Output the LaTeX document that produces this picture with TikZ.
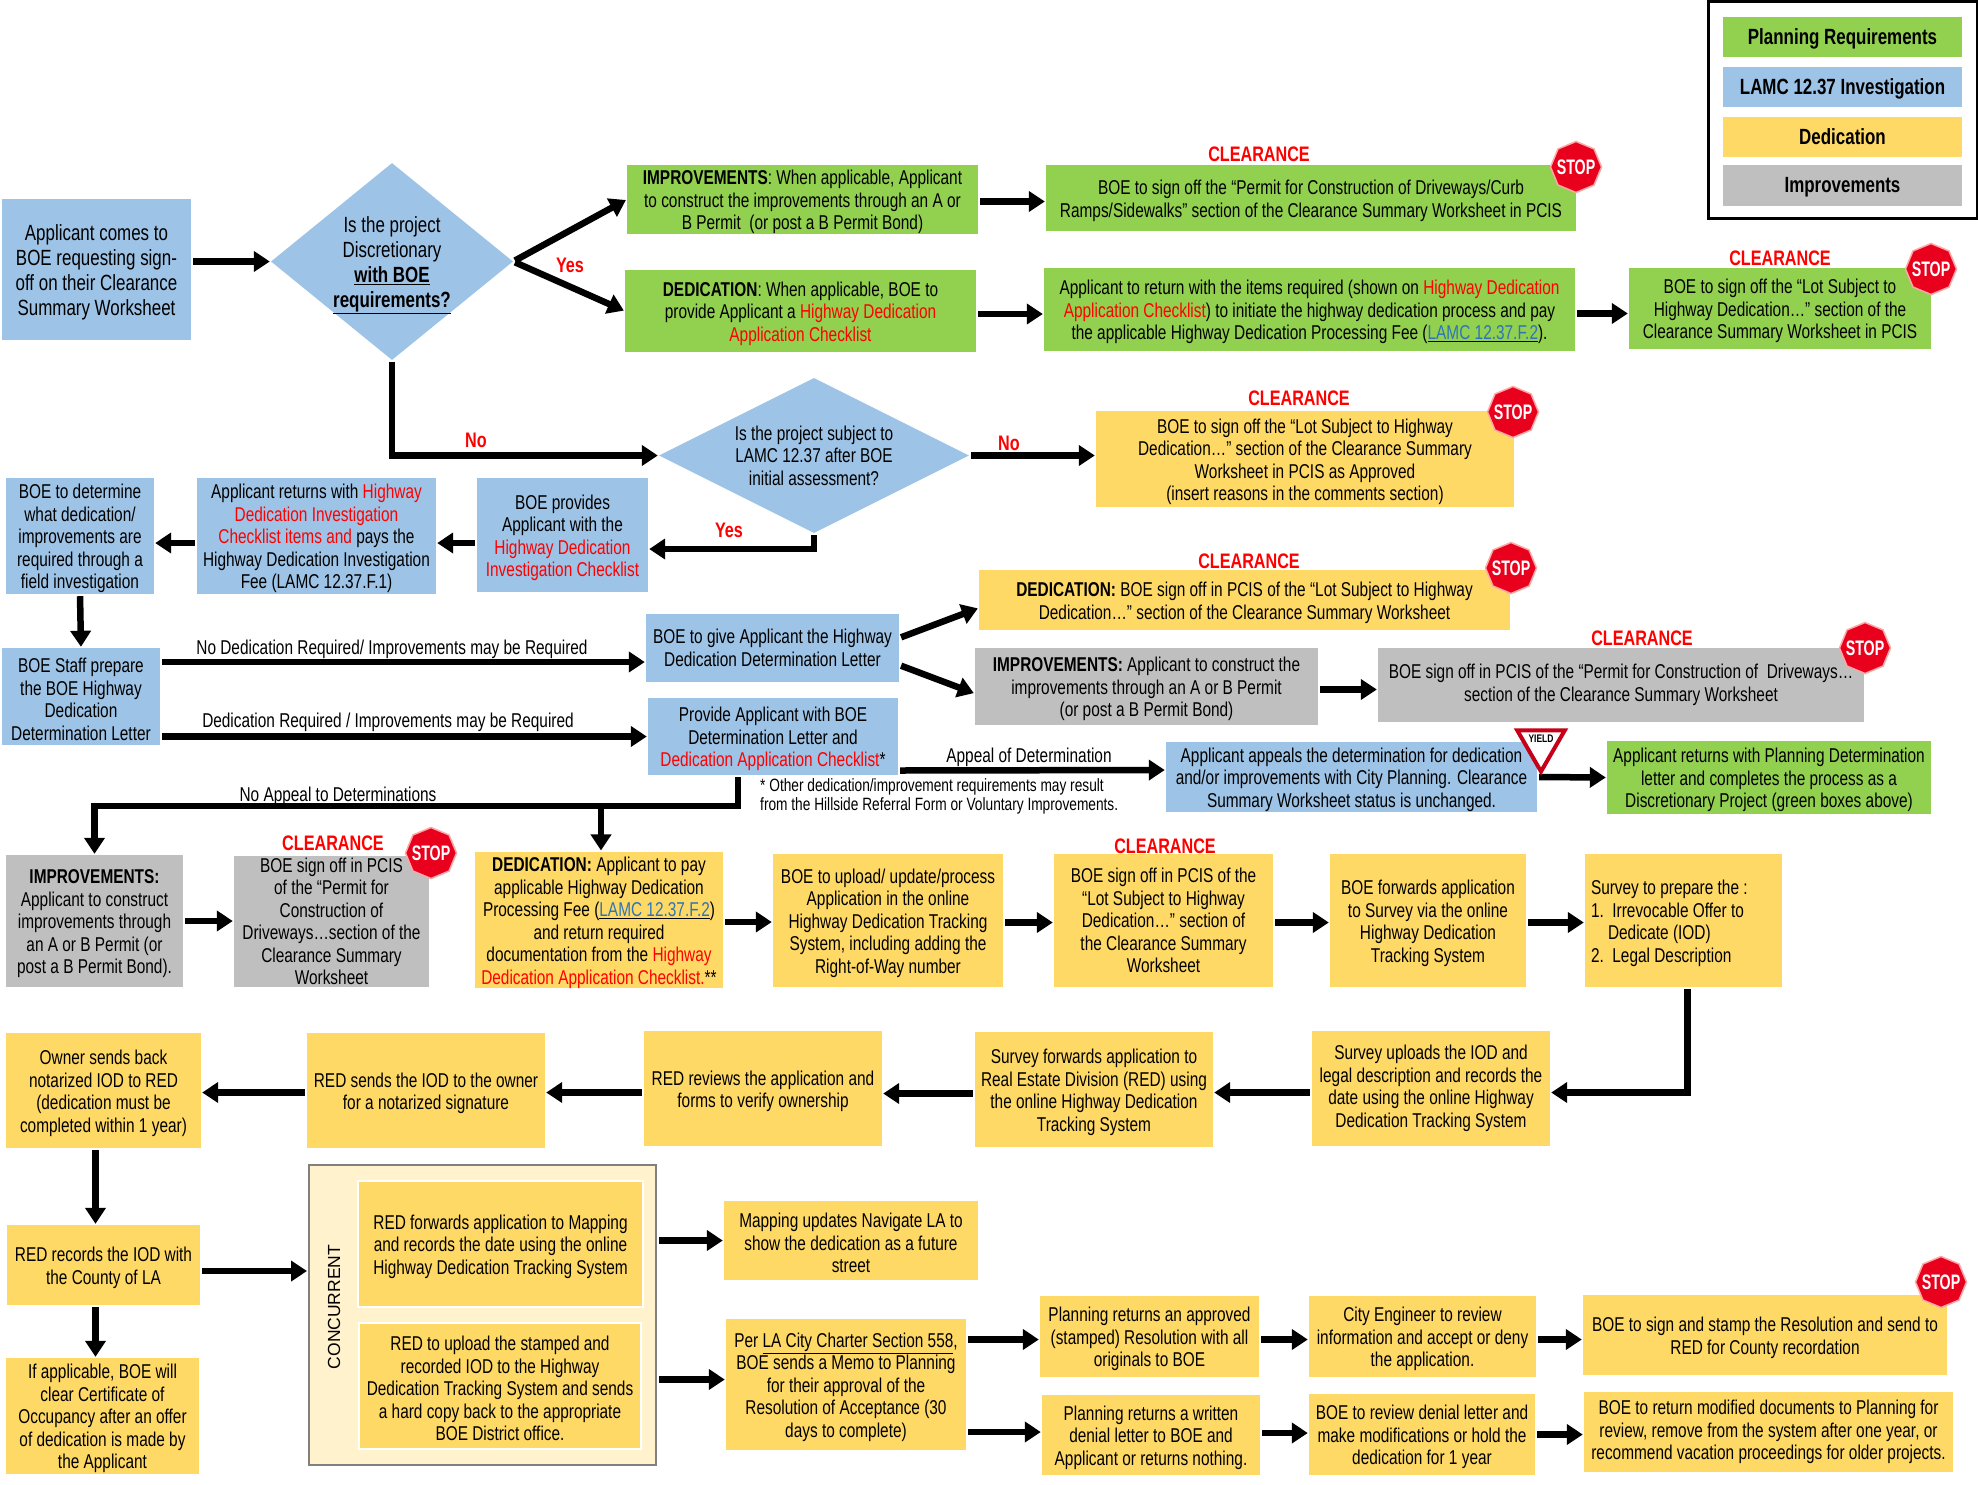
\documentclass[tikz,border=0pt]{standalone}
\usepackage{fontspec}
\setmainfont{Liberation Sans}[FakeStretch=0.77]
\newfontfamily\widefont{Liberation Sans}
\usetikzlibrary{arrows.meta,calc,shapes.geometric}
\definecolor{plangreen}{HTML}{92D050}
\definecolor{lamcblue}{HTML}{9DC3E6}
\definecolor{dedyellow}{HTML}{FFD966}
\definecolor{impgray}{HTML}{BFBFBF}
\definecolor{concream}{HTML}{FFF2CC}
\definecolor{linkblue}{HTML}{2E75B6}
\definecolor{stopred}{HTML}{E8001C}
\newcommand{\rd}[1]{\textcolor{red}{#1}}
\newcommand{\lnk}[1]{\underline{\textcolor{linkblue}{#1}}}
\newcommand{\up}{\rule{0pt}{20pt}}
\newcommand{\upbig}{\rule{0pt}{22pt}}
\newcommand{\bigfont}{\fontsize{22}{25}\selectfont}
\newcommand{\stoplab}{\smash{\raisebox{-7.5pt}{\makebox[0pt]{\scalebox{0.88}[1]{STOP}}}}}
\begin{document}
\begin{tikzpicture}[x=1pt,y=-1pt,
    wh/.style 2 args={minimum width=#1pt,minimum height=#2pt},
    base/.style={inner sep=0pt,align=center,font=\fontsize{20}{22.5}\selectfont},
    green box/.style={base,fill=plangreen},
    blue box/.style={base,fill=lamcblue},
    yellow box/.style={base,fill=dedyellow},
    gray box/.style={base,fill=impgray},
    decision/.style={base,diamond,fill=lamcblue,inner sep=-10pt},
    legtext/.style={text height=20pt,text depth=5.5pt,font=\fontsize{22}{24}\bfseries\selectfont},
    arr/.style={line width=6.5pt,shorten <=2pt,shorten >=1pt,-{Triangle[length=16pt,width=20pt]}},
    edgelab/.style={inner sep=0pt,font=\fontsize{20}{22}\selectfont},
    redlab/.style={inner sep=0pt,text=red,font=\fontsize{21}{24}\bfseries\selectfont},
    clearance/.style={inner sep=0pt,text=red,font=\fontsize{21}{24}\bfseries\selectfont},
    stopsign/.style={regular polygon,regular polygon sides=8,shape border rotate=22.5,minimum size=51pt,inner sep=0pt,
      fill=stopred,draw=red!35!white,line width=1.5pt,text=white,font=\fontsize{21}{22}\bfseries\selectfont}]
    \useasboundingbox (0,0) rectangle (1978,1484);

    \draw node at (1843,110)[name=legend,draw,line width=3pt,wh={269}{217}]{};
    \draw node at (1842.5,37)[name=legplan,green box,wh={239}{40},legtext]{Planning Requirements};
    \draw node at (1842.5,87)[name=leglamc,blue box,wh={239}{40},legtext]{LAMC 12.37 Investigation};
    \draw node at (1842.5,137)[name=legded,yellow box,wh={239}{40},legtext]{Dedication};
    \draw node at (1842.5,185.5)[name=legimp,gray box,wh={239}{41},legtext]{Improvements};

    \draw node at (96.5,269.5)[name=app,blue box,wh={189}{141},font=\bigfont]{\upbig Applicant comes to\\BOE requesting sign-\\off on their Clearance\\Summary Worksheet};
    \draw node at (392,261.5)[name=decone,decision,aspect=1.23,wh={242}{197},font=\bigfont]{\rule{0pt}{24pt}Is the project\\Discretionary\\\underline{\textbf{with BOE}}\\\underline{\textbf{requirements?}}};
    \draw node at (802.5,199.5)[name=impr,green box,wh={351}{69}]{\up\textbf{IMPROVEMENTS}: When applicable, Applicant\\to construct the improvements through an A or\\B Permit\ \ (or post a B Permit Bond)};
    \draw node at (800.5,311)[name=dedn,green box,wh={351}{82}]{\up\textbf{DEDICATION}: When applicable, BOE to\\provide Applicant a \rd{Highway Dedication}\\\rd{Application Checklist}};
    \draw node at (1311,198)[name=clrpermit,green box,wh={530}{66}]{\up BOE to sign off the “Permit for Construction of Driveways/Curb\\Ramps/Sidewalks” section of the Clearance Summary Worksheet in PCIS};
    \draw node at (1309.5,309.5)[name=retitems,green box,wh={531}{83}]{\up Applicant to return with the items required (shown on \rd{Highway Dedication}\\\rd{Application Checklist}) to initiate the highway dedication process and pay\\the applicable Highway Dedication Processing Fee (\lnk{LAMC 12.37.F.2}).};
    \draw node at (1780,308.5)[name=clrlot,green box,wh={302}{81}]{\up BOE to sign off the “Lot Subject to\\Highway Dedication…” section of the\\Clearance Summary Worksheet in PCIS};

    \draw node at (814,455.5)[name=dectwo,decision,aspect=2,wh={310}{155}]{Is the project subject to\\LAMC 12.37 after BOE\\initial assessment?};
    \draw node at (1305,459)[name=clrasis,yellow box,wh={418}{96}]{\up BOE to sign off the “Lot Subject to Highway\\Dedication…” section of the Clearance Summary\\Worksheet in PCIS as Approved\\(insert reasons in the comments section)};
    \draw node at (562.5,535)[name=boeprov,blue box,wh={171}{114}]{\up BOE provides\\Applicant with the\\\rd{Highway Dedication}\\\rd{Investigation Checklist}};
    \draw node at (316.5,536)[name=appret,blue box,wh={239}{116}]{\up Applicant returns with \rd{Highway}\\\rd{Dedication Investigation}\\\rd{Checklist items and} pays the\\Highway Dedication Investigation\\Fee (LAMC 12.37.F.1)};
    \draw node at (80,536)[name=boedet,blue box,wh={148}{116}]{\up BOE to determine\\what dedication/\\improvements are\\required through a\\field investigation};

    \draw node at (81,696.5)[name=staff,blue box,wh={158}{97}]{\up BOE Staff prepare\\the BOE Highway\\Dedication\\Determination Letter};
    \draw node at (772.5,648)[name=boegive,blue box,wh={253}{68}]{BOE to give Applicant the Highway\\Dedication Determination Letter};
    \draw node at (773,736.5)[name=provide,blue box,wh={250}{77}]{\up Provide Applicant with BOE\\Determination Letter and\\\rd{Dedication Application Checklist}*};
    \draw node at (1244.5,600)[name=dedclr,yellow box,wh={531}{60}]{\up\textbf{DEDICATION:} BOE sign off in PCIS of the “Lot Subject to Highway\\Dedication…” section of the Clearance Summary Worksheet};
    \draw node at (1146.5,686.5)[name=imprthree,gray box,wh={343}{77}]{\up\textbf{IMPROVEMENTS:} Applicant to construct the\\improvements through an A or B Permit\\(or post a B Permit Bond)};
    \draw node at (1621,685)[name=grayclr,gray box,wh={486}{74}]{BOE sign off in PCIS of the “Permit for Construction of\ \ Driveways…\\section of the Clearance Summary Worksheet};
    \draw node at (1351.5,777)[name=appeal,blue box,wh={371}{70}]{\up Applicant appeals the determination for dedication\\and/or improvements with City Planning. Clearance\\Summary Worksheet status is unchanged.};
    \draw node at (1769,777.5)[name=greenret,green box,wh={324}{73}]{\up Applicant returns with Planning Determination\\letter and completes the process as a\\Discretionary Project (green boxes above)};
    \draw node at (760,796)[name=note,anchor=west,inner sep=0pt,align=flush left,font=\fontsize{17.8}{19}\selectfont]{* Other dedication/improvement requirements may result\\from the Hillside Referral Form or Voluntary Improvements.};

    \draw node at (94.5,921)[name=imprtwo,gray box,wh={177}{132}]{\up\textbf{IMPROVEMENTS:}\\Applicant to construct\\improvements through\\an A or B Permit (or\\post a B Permit Bond).};
    \draw node at (331.5,921.5)[name=graybox,gray box,wh={195}{131}]{BOE sign off in PCIS\\of the “Permit for\\Construction of\\Driveways…section of the\\Clearance Summary\\Worksheet};
    \draw node at (599,920)[name=dedtwo,yellow box,wh={248}{132}]{\up\textbf{DEDICATION:} Applicant to pay\\applicable Highway Dedication\\Processing Fee (\lnk{LAMC 12.37.F.2})\\and return required\\documentation from the \rd{Highway}\\\rd{Dedication Application Checklist.}**};
    \draw node at (888,920.5)[name=upload,yellow box,wh={230}{133}]{\up BOE to upload/ update/process\\Application in the online\\Highway Dedication Tracking\\System, including adding the\\Right-of-Way number};
    \draw node at (1163.5,920.5)[name=clryel,yellow box,wh={219}{133}]{BOE sign off in PCIS of the\\“Lot Subject to Highway\\Dedication…” section of\\the Clearance Summary\\Worksheet};
    \draw node at (1428,920.5)[name=forward,yellow box,wh={196}{133}]{\up BOE forwards application\\to Survey via the online\\Highway Dedication\\Tracking System};
    \draw node at (1683.5,920.5)[name=survey,yellow box,wh={197}{133},text width=185pt,align=flush left]{\up Survey to prepare the :\\1.\ \ Irrevocable Offer to\\\hspace*{17pt}Dedicate (IOD)\\2.\ \ Legal Description};

    \draw node at (1431,1088.5)[name=surveyup,yellow box,wh={238}{115}]{Survey uploads the IOD and\\legal description and records the\\date using the online Highway\\Dedication Tracking System};
    \draw node at (1094,1089.5)[name=surveyfw,yellow box,wh={238}{115}]{\up Survey forwards application to\\Real Estate Division (RED) using\\the online Highway Dedication\\Tracking System};
    \draw node at (763,1088.5)[name=redrev,yellow box,wh={238}{115}]{\up RED reviews the application and\\forms to verify ownership};
    \draw node at (426,1090.5)[name=redsends,yellow box,wh={238}{115}]{\up RED sends the IOD to the owner\\for a notarized signature};
    \draw node at (103.5,1090.5)[name=owner,yellow box,wh={195}{115}]{\up Owner sends back\\notarized IOD to RED\\(dedication must be\\completed within 1 year)};
    \draw node at (103.5,1265)[name=redrec,yellow box,wh={193}{80}]{\up RED records the IOD with\\the County of LA};
    \draw node at (102.5,1416)[name=ifapp,yellow box,wh={193}{116}]{\up If applicable, BOE will\\clear Certificate of\\Occupancy after an offer\\of dedication is made by\\the Applicant};

    \draw node at (482.5,1315)[name=conc,draw=black!50,line width=2pt,fill=concream,wh={347}{300}]{};
    \draw node at (334,1307)[name=conclab,rotate=90,inner sep=0pt,font=\fontsize{17.5}{22}\widefont\selectfont]{CONCURRENT};
    \draw node at (500.5,1244)[name=redfwd,yellow box,draw=white,line width=1.5pt,wh={285}{126}]{\up RED forwards application to Mapping\\and records the date using the online\\Highway Dedication Tracking System};
    \draw node at (500,1386)[name=redup,yellow box,draw=white,line width=1.5pt,wh={282}{126}]{\up RED to upload the stamped and\\recorded IOD to the Highway\\Dedication Tracking System and sends\\a hard copy back to the appropriate\\BOE District office.};
    \draw node at (851,1240.5)[name=mapping,yellow box,wh={254}{79}]{\up Mapping updates Navigate LA to\\show the dedication as a future\\street};
    \draw node at (846,1384.5)[name=per,yellow box,wh={240}{131}]{\up Per \underline{LA City Charter Section 558},\\BOE sends a Memo to Planning\\for their approval of the\\Resolution of Acceptance (30\\days to complete)};
    \draw node at (1149.5,1336.5)[name=plana,yellow box,wh={219}{81}]{\up Planning returns an approved\\(stamped) Resolution with all\\originals to BOE};
    \draw node at (1151,1435)[name=planb,yellow box,wh={218}{80}]{\up Planning returns a written\\denial letter to BOE and\\Applicant or returns nothing.};
    \draw node at (1422.5,1336.5)[name=city,yellow box,wh={227}{81}]{\up City Engineer to review\\information and accept or deny\\the application.};
    \draw node at (1422,1434.5)[name=boeden,yellow box,wh={226}{81}]{\up BOE to review denial letter and\\make modifications or hold the\\dedication for 1 year};
    \draw node at (1765,1335)[name=boesign,yellow box,wh={364}{80}]{\up BOE to sign and stamp the Resolution and send to\\RED for County recordation};
    \draw node at (1768.5,1432)[name=boeret,yellow box,wh={369}{80}]{BOE to return modified documents to Planning for\\review, remove from the system after one year, or\\recommend vacation proceedings for older projects.};

    \draw[arr](app.east |- decone.west) -- (decone.west);
    \draw[arr](decone.east) -- (impr.west);
    \draw[arr](decone.east) -- (dedn.west);
    \draw[arr](decone.south) |- (dectwo.west);
    \draw[arr]([yshift=-2pt]impr.east) -- ([yshift=-2pt]impr.east -| clrpermit.west);
    \draw[arr]([yshift=-3pt]dedn.east) -- ([yshift=-3pt]dedn.east -| retitems.west);
    \draw[arr]([yshift=-4pt]retitems.east) -- ([yshift=-4pt]retitems.east -| clrlot.west);
    \draw[arr](dectwo.east) -- (dectwo.east -| clrasis.west);
    \draw[arr](dectwo.south) |- ([yshift=-14pt]boeprov.east);
    \draw[arr]([yshift=-8pt]boeprov.west) -- ([yshift=-8pt]boeprov.west -| appret.east);
    \draw[arr]([yshift=-7pt]appret.west) -- ([yshift=-7pt]appret.west -| boedet.east);
    \draw[arr](boedet.south) -- (staff.north);
    \draw[arr]([yshift=-14pt]boegive.west -| staff.east) -- ([yshift=-14pt]boegive.west);
    \draw[arr](provide.west -| staff.east) -- (provide.west);
    \draw[arr]([yshift=10pt]boegive.east) -- ([yshift=-8pt]dedclr.west);
    \draw[arr]([yshift=-17pt]boegive.east) -- ([yshift=-7pt]imprthree.west);
    \draw[arr]([yshift=-3pt]imprthree.east) -- ([yshift=-3pt]imprthree.east -| grayclr.west);
    \draw[arr]([yshift=-34pt]provide.east) -- ([yshift=7pt]appeal.west);
    \draw[arr](appeal.east) -- (greenret.west);
    \coordinate (split) at (601,806);
    \draw[arr]([xshift=-35pt]provide.south) |- (split) -| (imprtwo.north);
    \draw[arr](split) -- (split |- dedtwo.north);
    \draw[arr](imprtwo.east) -- (imprtwo.east -| graybox.west);
    \draw[arr]([yshift=-2pt]dedtwo.east) -- ([yshift=-2pt]dedtwo.east -| upload.west);
    \draw[arr]([yshift=-2pt]upload.east) -- ([yshift=-2pt]upload.east -| clryel.west);
    \draw[arr]([yshift=-2pt]clryel.east) -- ([yshift=-2pt]clryel.east -| forward.west);
    \draw[arr]([yshift=-2pt]forward.east) -- ([yshift=-2pt]forward.east -| survey.west);
    \draw[arr]([xshift=4pt]survey.south) |- ([yshift=-4pt]surveyup.east);
    \draw[arr]([yshift=-4pt]surveyup.west) -- ([yshift=-4pt]surveyup.west -| surveyfw.east);
    \draw[arr]([yshift=-4pt]surveyfw.west) -- ([yshift=-4pt]surveyfw.west -| redrev.east);
    \draw[arr]([yshift=-4pt]redrev.west) -- ([yshift=-4pt]redrev.west -| redsends.east);
    \draw[arr]([yshift=-2pt]redsends.west) -- ([yshift=-2pt]redsends.west -| owner.east);
    \draw[arr]([xshift=-8pt]owner.south) -- ([xshift=-8pt]owner.south |- redrec.north);
    \draw[arr]([xshift=-8pt]redrec.south) -- ([xshift=-8pt]redrec.south |- ifapp.north);
    \draw[arr]([yshift=-6pt]redrec.east) -- ([yshift=-6pt]redrec.east -| conc.west);
    \draw[arr](conc.east |- mapping.west) -- (mapping.west);
    \draw[arr]([yshift=5pt]per.west -| conc.east) -- ([yshift=5pt]per.west);
    \draw[arr]([yshift=-3pt]per.east |- plana.west) -- ([yshift=-3pt]plana.west);
    \draw[arr]([yshift=3pt]per.east |- planb.west) -- ([yshift=3pt]planb.west);
    \draw[arr]([yshift=-3pt]plana.east) -- ([yshift=-3pt]city.west);
    \draw[arr]([yshift=2pt]planb.east) -- ([yshift=2pt]planb.east -| boeden.west);
    \draw[arr]([yshift=-3pt]city.east) -- ([yshift=-3pt]city.east -| boesign.west);
    \draw[arr](boeden.east) -- (boeden.east -| boeret.west);

    \draw node at (570,265)[name=yesone,redlab]{Yes};
    \draw node at (476,440)[name=noone,redlab]{No};
    \draw node at (1009,443)[name=notwo,redlab]{No};
    \draw node at (729,530)[name=yestwo,redlab]{Yes};
    \draw node at (392,649)[name=nodedlab,edgelab]{No Dedication Required/ Improvements may be Required};
    \draw node at (388,722)[name=dedlab,edgelab]{Dedication Required / Improvements may be Required};
    \draw node at (338,796)[name=noappeal,edgelab]{No Appeal to Determinations};
    \draw node at (1029,757)[name=appeallab,edgelab]{Appeal of Determination};

    \draw node at (1259,154)[name=clra,clearance]{CLEARANCE};
    \draw node at (1780,258)[name=clrb,clearance]{CLEARANCE};
    \draw node at (1299,398)[name=clrc,clearance]{CLEARANCE};
    \draw node at (1249,561)[name=clrd,clearance]{CLEARANCE};
    \draw node at (1642,638)[name=clre,clearance]{CLEARANCE};
    \draw node at (333,843)[name=clrf,clearance]{CLEARANCE};
    \draw node at (1165,846)[name=clrg,clearance]{CLEARANCE};

    \draw node at (1576,167)[name=stopa,stopsign]{\stoplab};
    \draw node at (1931,269)[name=stopb,stopsign]{\stoplab};
    \draw node at (1513,412)[name=stopc,stopsign]{\stoplab};
    \draw node at (1511,568)[name=stopd,stopsign]{\stoplab};
    \draw node at (1865,648)[name=stope,stopsign]{\stoplab};
    \draw node at (431,853)[name=stopf,stopsign]{\stoplab};
    \draw node at (1941,1282)[name=stopg,stopsign]{\stoplab};

    \draw node at (1541,744)[name=yieldsign,regular polygon,regular polygon sides=3,shape border rotate=180,minimum size=55pt,inner sep=0pt,fill=white,draw=stopred!85!black,line width=4pt]{};
    \draw node at (1541,739)[name=yieldtxt,inner sep=0pt,font=\fontsize{11}{12}\bfseries\selectfont]{YIELD};
\end{tikzpicture}
\end{document}
